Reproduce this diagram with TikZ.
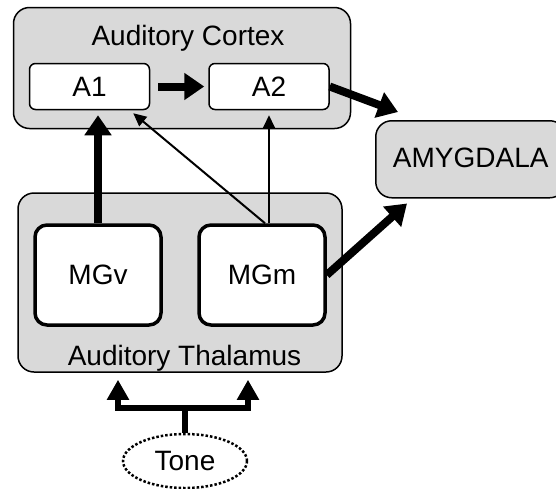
\documentclass[tikz,border=0pt]{standalone}
\usepackage{fontspec}
\setmainfont{Liberation Sans}
\usetikzlibrary{arrows.meta,positioning,calc,shapes.geometric}

\begin{document}
\begin{tikzpicture}[x=1pt,y=-1pt,every node/.style={font=\fontsize{28}{33}\selectfont,inner sep=0pt},
 grp/.style={draw,line width=1.5pt,rounded corners=16pt,fill=black!15},
 bx/.style={draw,line width=1.5pt,rounded corners=6pt,fill=white,minimum width=120pt,minimum height=46pt},
 mg/.style={draw,line width=3.5pt,rounded corners=12pt,fill=white,minimum width=126pt,minimum height=100pt},
 arr/.style={-{Triangle[length=20pt,width=26pt]},line width=8pt},
 tarr/.style={-{Triangle[length=13pt,width=12pt]},line width=2pt},
 fk/.style={line width=6pt}]
\useasboundingbox (0,0) rectangle (556,488);
% cortex
\node[grp,minimum width=337pt,minimum height=121pt] (cortex) at (182,68) {};
\node[anchor=base] (ctxt) at (188,45) {Auditory Cortex};
\node[bx] (a1) at (89.5,86.5) {A1};
\node[bx] (a2) at (269,86.5) {A2};
\node[grp,minimum width=190pt,minimum height=77pt,anchor=north west,text depth=3pt] (amyg) at (375,120) {AMYGDALA};
% thalamus
\node[grp,minimum width=324pt,minimum height=179pt] (thal) at (180,282.5) {};
\node[mg] (mgv) at (98,275) {MGv};
\node[mg] (mgm) at (262,275) {MGm};
\node[anchor=base] (ttxt) at (184.5,365) {Auditory Thalamus};
\node[draw,ellipse,dash pattern=on 2.5pt off 2pt,line width=2.5pt,minimum width=124pt,minimum height=54pt] (tone) at (185,461) {Tone};
% connections
\draw[arr]([xshift=8pt]a1.east)--([xshift=-4pt]a2.west);
\draw[arr](mgv.north)--($(mgv.north |- a1.south)+(0,5)$);
\draw[tarr](a2.south |- mgm.north)--($(a2.south)+(0,5)$);
\draw[tarr]($(mgm.north)+(3,0)$)--($(a1.south east)+(-17,3)$);
\draw[arr](a2.east)--($(amyg.north west)+(23,-8)$);
\draw[arr](mgm.east)--($(amyg.south west)+(32,5)$);
\coordinate (fl) at (118,408); \coordinate (fr) at (248,408);
\draw[fk](tone.north)--(tone.north |- fl);
\draw[fk,{Triangle[length=20pt,width=21pt]}-{Triangle[length=20pt,width=21pt]}]($(fl |- thal.south)+(0,7)$)--(fl)--(fr)--($(fr |- thal.south)+(0,7)$);
\end{tikzpicture}
\end{document}
